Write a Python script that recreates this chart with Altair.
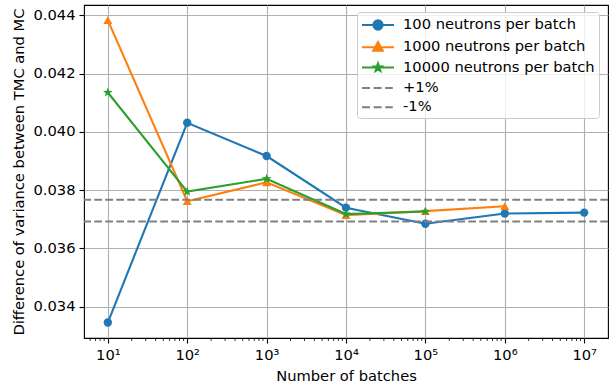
import math

import altair as alt
import pandas as pd

# Number of batches (x) and the variance difference measured for each batch size
batches = [1e1, 1e2, 1e3, 1e4, 1e5, 1e6, 1e7]
var_100 = [0.03346, 0.04031, 0.03917, 0.03740, 0.03685, 0.03720, 0.03723]
var_1000 = [0.04383, 0.03762, 0.03827, 0.03714, 0.03728, 0.03745]
var_10000 = [0.04135, 0.03795, 0.03839, 0.03718, 0.03727]

series_names = ["100 neutrons per batch", "1000 neutrons per batch", "10000 neutrons per batch"]
series_values = [var_100, var_1000, var_10000]
series_colors = ["#1f77b4", "#ff7f0e", "#2ca02c"]

# +/-1% band around the converged variance difference
reference_variance = 0.0373
band_labels = ["+1%", "-1%"]
band_levels = [reference_variance * 1.01, reference_variance * 0.99]
band_color = "#808080"

y_ticks = [0.034, 0.036, 0.038, 0.040, 0.042, 0.044]

x_lo, x_hi = 10 ** 0.7, 10 ** 7.3
y_lo, y_hi = 0.03293, 0.04435
minor_ticks = [m * 10 ** e for e in range(0, 8) for m in range(2, 10)
               if x_lo <= m * 10 ** e <= x_hi]

W, H = 524, 333
FS = 14.7


def star_path(cx, outer, inner):
    pts = []
    for k in range(10):
        ang = -math.pi / 2 + k * math.pi / 5
        rad = outer if k % 2 == 0 else inner
        pts.append(f"{cx + rad * math.cos(ang):.3f},{rad * math.sin(ang):.3f}")
    return "M" + "L".join(pts) + "Z"


def circle_path(cx, r):
    return (f"M{cx + r},0A{r},{r},0,1,1,{cx - r},0"
            f"A{r},{r},0,1,1,{cx + r},0Z")


series_shapes = ["circle", "triangle-up", star_path(0, 1, 0.42)]
series_sizes = [70, 80, 100]

rows = []
for name, vals in zip(series_names, series_values):
    for b, v in zip(batches, vals):
        rows.append({"series": name, "batches": b, "variance": v})
df = pd.DataFrame(rows)
bands = pd.DataFrame({"label": band_labels, "variance": band_levels})
minor_df = pd.DataFrame({"batches": minor_ticks})

FONT = "DejaVu Sans"
GRID = "#b0b0b0"

x_scale = alt.Scale(type="log", domain=[x_lo, x_hi], nice=False)
y_scale = alt.Scale(domain=[y_lo, y_hi], nice=False, zero=False)

sup = '["⁰","¹","²","³","⁴","⁵","⁶","⁷","⁸"]'
x_enc = alt.X(
    "batches:Q", scale=x_scale,
    axis=alt.Axis(
        values=batches,
        labelExpr=f'"10" + {sup}[round(log(datum.value) / LN10)]',
        title="Number of batches",
        grid=True, gridColor=GRID, gridWidth=1.1,
        tickSize=5, tickWidth=1.1, tickColor="black",
        labelPadding=4, labelFontSize=FS, titleFontSize=FS,
        titleFontWeight="normal", titlePadding=7, domain=False,
    ),
)
y_enc = alt.Y(
    "variance:Q", scale=y_scale,
    axis=alt.Axis(
        values=y_ticks, format=".3f",
        title="Difference of variance between TMC and MC",
        grid=True, gridColor=GRID, gridWidth=1.1,
        tickSize=5, tickWidth=1.1, tickColor="black",
        labelPadding=4, labelFontSize=FS, titleFontSize=FS,
        titleFontWeight="normal", titlePadding=6, domain=False,
    ),
)

layers = []
# Minor ticks of the log axis, just below the bottom frame
layers.append(
    alt.Chart(minor_df)
    .mark_rule(color="black", strokeWidth=0.8, clip=False)
    .encode(x=x_enc, y=alt.value(H), y2=alt.value(H + 3))
)
for i, name in enumerate(series_names):
    sub = df[df.series == name]
    layers.append(
        alt.Chart(sub).mark_line(color=series_colors[i], strokeWidth=2.1)
        .encode(x=x_enc, y=y_enc)
    )
    layers.append(
        alt.Chart(sub)
        .mark_point(filled=True, shape=series_shapes[i], size=series_sizes[i],
                    color=series_colors[i], opacity=1)
        .encode(x=x_enc, y=y_enc)
    )

layers.append(
    alt.Chart(bands)
    .mark_rule(color=band_color, strokeWidth=2.1, strokeDash=[7.7, 3.3])
    .encode(y=y_enc)
)

# Legend glyphs: a short line with the series marker at its middle
line_seg = "M-1,0H3"
dash_seg = "M-1,0H0M0.45,0H1.45M1.9,0H2.85"
legend_shapes = [
    line_seg + circle_path(1, 0.58),
    line_seg + "M1,-0.66L1.6,0.44L0.4,0.44Z",
    line_seg + star_path(1, 0.52, 0.22),
    dash_seg,
    dash_seg,
]
legend_labels = series_names + band_labels
legend_colors = series_colors + [band_color, band_color]
legend_df = pd.DataFrame({"entry": legend_labels})

legend_scale_c = alt.Scale(domain=legend_labels, range=legend_colors)
legend_scale_s = alt.Scale(domain=legend_labels, range=legend_shapes)
legend_def = alt.Legend(
    title=None, orient="none", legendX=273, legendY=7,
    symbolSize=256, symbolStrokeWidth=2, symbolOpacity=1,
    labelOffset=24, rowPadding=3.3, padding=4, labelLimit=400,
    labelFont=FONT, labelFontSize=FS, labelColor="black",
    strokeColor="#cccccc", fillColor="rgba(255,255,255,0.8)", cornerRadius=3,
)
layers.append(
    alt.Chart(legend_df)
    .mark_point(filled=True, opacity=0, size=256)
    .encode(
        fill=alt.Fill("entry:N", scale=legend_scale_c, legend=legend_def, sort=legend_labels),
        stroke=alt.Stroke("entry:N", scale=legend_scale_c, legend=legend_def, sort=legend_labels),
        shape=alt.Shape("entry:N", scale=legend_scale_s, legend=legend_def, sort=legend_labels),
    )
)

chart = (
    alt.layer(*layers)
    .properties(
        width=W, height=H,
        autosize=alt.AutoSizeParams(type="none"),
        padding={"left": 84, "top": 5, "right": 8, "bottom": 51},
        background="white",
    )
    .configure_view(stroke="black", strokeWidth=1.1)
    .configure_axis(labelFont=FONT, titleFont=FONT, labelColor="black", titleColor="black")
)

chart.save("out.html", embed_options={"renderer": "svg", "actions": False})
